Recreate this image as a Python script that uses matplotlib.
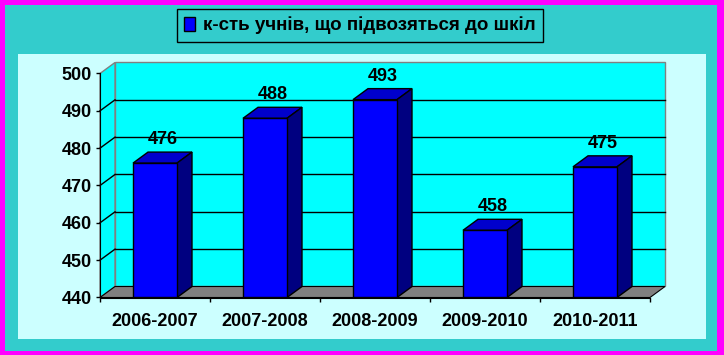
import matplotlib.pyplot as plt
from matplotlib.patches import Rectangle, Polygon

# дані
years = ['2006-2007', '2007-2008', '2008-2009', '2009-2010', '2010-2011']
pupils = [476, 488, 493, 458, 475]
y_ticks = [440, 450, 460, 470, 480, 490, 500]
legend_label = 'к-сть учнів, що підвозяться до шкіл'

plt.rcParams['font.family'] = ['Liberation Sans', 'DejaVu Sans']
plt.rcParams['font.weight'] = 'bold'

W, H = 724, 355
fig = plt.figure(figsize=(W / 100, H / 100), dpi=100, facecolor='#FF00FF')

# рамки фону
fig.patches.append(Rectangle((5 / W, 4 / H), (W - 12) / W, (H - 9) / H,
                             transform=fig.transFigure, facecolor='#33CCCC',
                             edgecolor='none', zorder=-2))
fig.patches.append(Rectangle((18 / W, (H - 339) / H), 688 / W, 285 / H,
                             transform=fig.transFigure, facecolor='#CCFFFF',
                             edgecolor='none', zorder=-1))

ax = fig.add_axes([100 / W, (H - 297.5) / H, 550 / W, 224 / H])
ax.set_zorder(1)
ax.set_facecolor('none')
ax.set_xlim(0, len(years))
ax.set_ylim(y_ticks[0], y_ticks[-1])

# глибина 3D в одиницях даних
dx = 15 / 110
dy = 11 / (224 / 60)
y0, y1 = y_ticks[0], y_ticks[-1]
n = len(years)

# задня стінка, бічна стінка, підлога
ax.add_patch(Rectangle((dx, y0 + dy), n, y1 - y0, facecolor='#00FFFF',
                       edgecolor='#808080', lw=1, clip_on=False, zorder=1))
ax.add_patch(Polygon([(0, y0), (dx, y0 + dy), (dx, y1 + dy), (0, y1)],
                     facecolor='#00FFFF', edgecolor='#808080', lw=1,
                     clip_on=False, zorder=1))
for v in y_ticks[1:-1]:
    ax.plot([dx, n + dx], [v + dy, v + dy], color='black', lw=1, zorder=2, clip_on=False)
    ax.plot([0, dx], [v, v + dy], color='black', lw=1, zorder=2, clip_on=False)
ax.add_patch(Polygon([(0, y0), (n, y0), (n + dx, y0 + dy), (dx, y0 + dy)],
                     facecolor='#808080', edgecolor='black', lw=0.8,
                     clip_on=False, zorder=2))

# стовпчики
bw = 0.4
xs = [i + 0.5 for i in range(n)]
bars = ax.bar(xs, [p - y0 for p in pupils], bottom=y0, width=bw,
              color='#0000FF', edgecolor='black', lw=1, zorder=4,
              label=legend_label)
for x, p in zip(xs, pupils):
    l, r = x - bw / 2, x + bw / 2
    ax.add_patch(Polygon([(l, p), (r, p), (r + dx, p + dy), (l + dx, p + dy)],
                         facecolor='#0000CC', edgecolor='black', lw=1,
                         clip_on=False, zorder=3))
    ax.add_patch(Polygon([(r, y0), (r, p), (r + dx, p + dy), (r + dx, y0 + dy)],
                         facecolor='#000080', edgecolor='black', lw=1,
                         clip_on=False, zorder=3))
    ax.annotate(str(p), (x + dx / 2, p + dy), xytext=(0, 4),
                textcoords='offset pixels', ha='center', va='bottom',
                fontsize=13, fontweight='bold', zorder=6)

# осі
for s in ['top', 'right']:
    ax.spines[s].set_visible(False)
ax.spines['left'].set_zorder(5)
ax.spines['bottom'].set_zorder(5)
ax.set_yticks(y_ticks)
ax.tick_params(axis='y', length=3, width=1, pad=3, labelsize=13)
ax.set_xticks(range(n + 1))
ax.set_xticklabels([])
ax.set_xticks(xs, minor=True)
ax.set_xticklabels(years, minor=True)
ax.tick_params(axis='x', which='major', length=3, width=1)
ax.tick_params(axis='x', which='minor', length=0, pad=11, labelsize=13)
for t in ax.get_yticklabels() + ax.get_xticklabels(minor=True):
    t.set_fontweight('bold')

leg = fig.legend(handles=[bars], labels=[legend_label], loc='center',
                 bbox_to_anchor=(360 / W, 1 - 25.5 / H),
                 frameon=True, fancybox=False, facecolor='#33CCCC',
                 edgecolor='black', handlelength=0.55, handleheight=0.8,
                 handletextpad=0.45, borderpad=0.4, prop={'weight': 'bold', 'size': 13.5})
leg.get_frame().set_linewidth(1)
leg.get_frame().set_alpha(None)

fig.savefig('out.png', dpi=100, facecolor=fig.get_facecolor())
